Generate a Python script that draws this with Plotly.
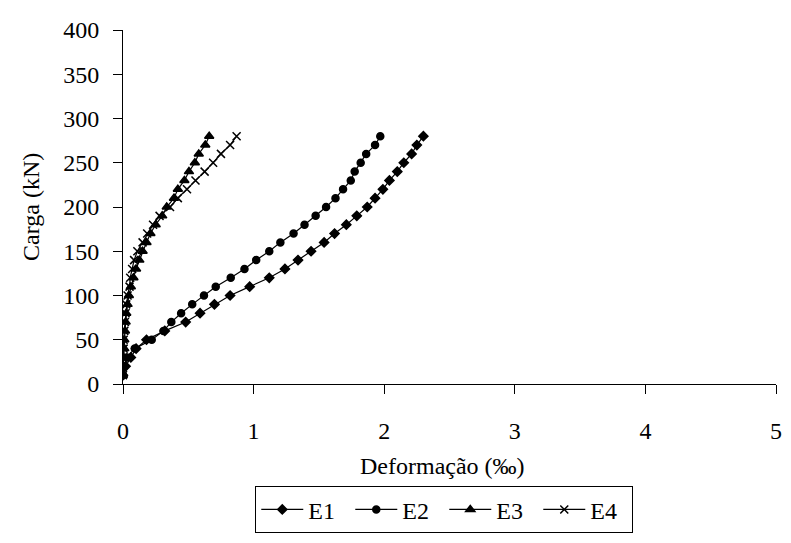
import plotly.graph_objects as go

loads = [10, 20, 30, 40, 50, 60, 70, 80, 90, 100, 110, 120, 130, 140,
         150, 160, 170, 180, 190, 200, 210, 220, 230, 240, 250, 260, 270, 280]

e1 = [0.00, 0.02, 0.06, 0.10, 0.18, 0.32, 0.48, 0.59, 0.70, 0.82, 0.97, 1.12, 1.24, 1.34,
      1.44, 1.54, 1.62, 1.71, 1.79, 1.87, 1.93, 1.99, 2.04, 2.10, 2.15, 2.21, 2.25, 2.30]
e2 = [0.00, 0.01, 0.03, 0.09, 0.22, 0.31, 0.37, 0.445, 0.53, 0.62, 0.71, 0.825, 0.93, 1.02,
      1.12, 1.205, 1.306, 1.39, 1.475, 1.555, 1.627, 1.685, 1.744, 1.774, 1.82, 1.862, 1.93, 1.97]
e3 = [0.00, 0.00, 0.005, 0.01, 0.01, 0.015, 0.02, 0.025, 0.035, 0.045, 0.06, 0.08, 0.10, 0.125,
      0.15, 0.18, 0.21, 0.25, 0.30, 0.335, 0.39, 0.42, 0.47, 0.505, 0.55, 0.58, 0.63, 0.66]
e4 = [0.00, 0.00, 0.003, 0.005, 0.005, 0.01, 0.015, 0.02, 0.025, 0.035, 0.05, 0.055, 0.07, 0.085,
      0.11, 0.15, 0.185, 0.23, 0.28, 0.36, 0.42, 0.49, 0.555, 0.625, 0.69, 0.75, 0.82, 0.87]

series = [("E1", e1, "diamond", 7), ("E2", e2, "circle", 7),
          ("E3", e3, "triangle-up", 8), ("E4", e4, "x-thin-open", 8)]

FONT = "Liberation Serif"

fig = go.Figure()
for name, xs, sym, size in series:
    fig.add_trace(go.Scatter(
        x=xs, y=loads, mode="lines+markers", name=name,
        line=dict(color="black", width=1.2),
        marker=dict(symbol=sym, size=size, color="black",
                    line=dict(color="black", width=1.5)),
    ))

fig.update_layout(
    width=783, height=535,
    margin=dict(l=115, r=9, t=16, b=152),
    paper_bgcolor="white", plot_bgcolor="white",
    font=dict(family=FONT, size=24, color="black"),
    showlegend=True,
    legend=dict(orientation="h", x=0.492, xanchor="center", y=-0.289, yanchor="top",
                bordercolor="black", borderwidth=1, font=dict(family=FONT, size=24),
                itemwidth=42, entrywidth=37, tracegroupgap=0),
    xaxis=dict(range=[0, 5], dtick=1, showgrid=False, zeroline=False,
               showline=True, linecolor="black", linewidth=1,
               ticks="outside", ticklen=9, tickcolor="black",
               ticklabelstandoff=16),
    yaxis=dict(range=[0, 400], dtick=50, showgrid=False, zeroline=False,
               showline=True, linecolor="black", linewidth=1,
               ticks="outside", ticklen=9, tickcolor="black",
               ticklabelstandoff=9),
    annotations=[
        dict(text="Deformação (‰)", xref="paper", yref="paper", x=0.49, y=-0.232,
             xanchor="center", yanchor="middle", showarrow=False,
             font=dict(family=FONT, size=24)),
        dict(text="Carga (kN)", xref="paper", yref="paper", x=-0.141, y=0.5,
             xanchor="center", yanchor="middle", textangle=-90, showarrow=False,
             font=dict(family=FONT, size=24)),
    ],
)

fig.write_html("out.html")
